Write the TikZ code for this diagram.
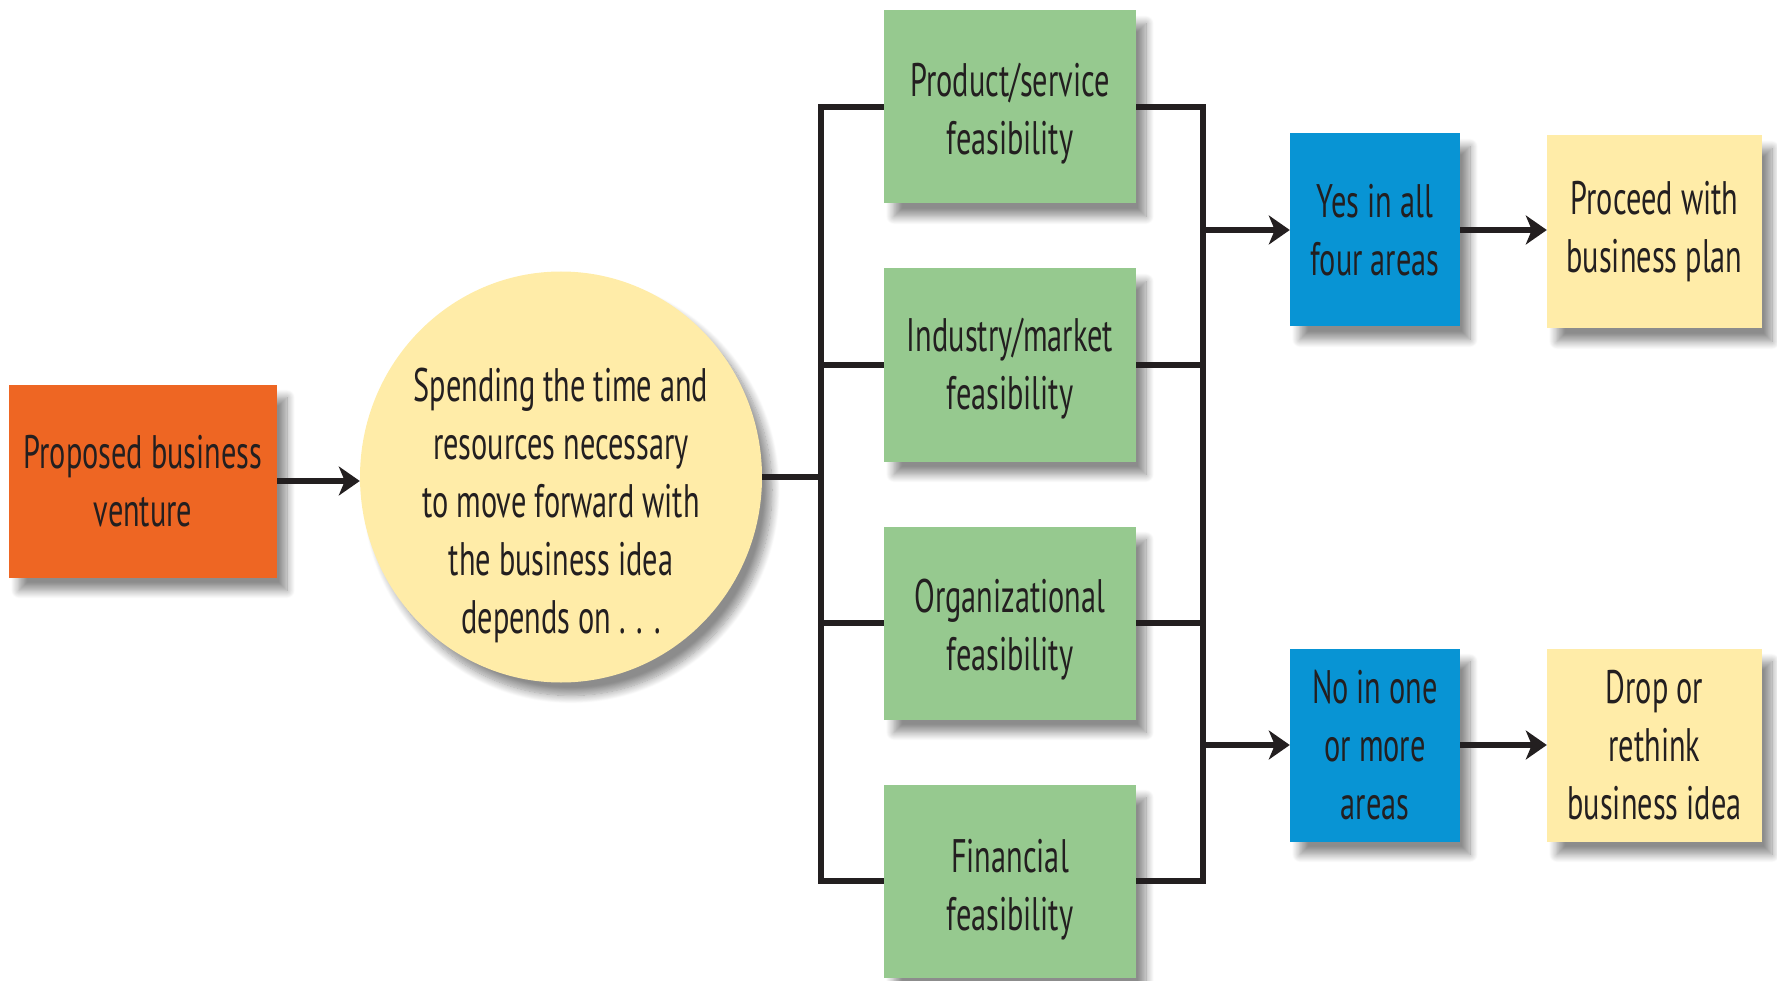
\documentclass[tikz,border=0pt]{standalone}
\usepackage{fontspec}
\setmainfont{PT Sans}[FakeStretch=0.645]
\usetikzlibrary{arrows.meta,shadows.blur,shapes.geometric}

\definecolor{ink}{HTML}{231F20}
\definecolor{orng}{HTML}{EE6623}
\definecolor{grn}{HTML}{96C98F}
\definecolor{blu}{HTML}{0894D4}
\definecolor{cream}{HTML}{FFECA8}

\begin{document}
\begin{tikzpicture}[x=1pt,y=-1pt,
  every node/.style={font=\fontsize{47}{58}\selectfont, text=ink, align=center},
  soft/.style={blur shadow={shadow xshift=10pt, shadow yshift=-13pt,
      shadow blur radius=8pt, shadow blur steps=12, shadow opacity=45}},
  box/.style={rectangle, minimum height=193pt, inner sep=0pt, soft},
  feas/.style={box, fill=grn, minimum width=252pt},
  bubble/.style={ellipse, minimum width=402pt, minimum height=411pt, inner sep=0pt, fill=cream, soft},
  conn/.style={draw=ink, line width=6.5pt, line join=miter},
  arr/.style={conn, -{Stealth[length=21pt,width=29pt,inset=6pt]}}]

\useasboundingbox (0,0) rectangle (1777,981);

% start and the central question
\node[box, fill=orng, minimum width=268pt] (venture) at (143,481)
  {Proposed business\\venture};
\node[bubble] (circ) at (561,477) {};
\node (circtext) at (561,505)
  {Spending the time and\\resources necessary\\to move forward with\\the business idea\\depends on . . .};

% the four feasibility areas (text set a little below the box centre)
\node[feas, label={[yshift=-7pt]center:{Product/service\\feasibility}}] (prod) at (1010,107) {};
\node[feas, label={[yshift=-4pt]center:{Industry/market\\feasibility}}] (ind)  at (1010,365) {};
\node[feas, label={[yshift=-7pt]center:{Organizational\\feasibility}}]  (org)  at (1010,623) {};
\node[feas, label={[yshift=-9pt]center:{Financial\\feasibility}}]       (fin)  at (1010,881) {};

% outcomes
\node[box, fill=blu, minimum width=170pt] (yes) at (1375,230) {Yes in all\\four areas};
\node[box, fill=blu, minimum width=170pt] (no)  at (1375,745) {No in one\\or more\\areas};
\node[box, fill=cream, minimum width=215pt] (proceed) at (1654.5,232) {Proceed with\\business plan};
\node[box, fill=cream, minimum width=215pt] (drop)    at (1654.5,745) {Drop or\\rethink\\business idea};

% junction points of the two bus lines
\coordinate (jl) at (821,477);
\coordinate (jr1) at (1203,230);
\coordinate (jr2) at (1203,745);

% connectors
\draw[arr] (venture.east) -- (venture.east -| circ.west);
\draw[conn] (circ.east) -- (jl);
\draw[conn] (prod.west) -| (jl) |- (fin.west);
\draw[conn] (ind.west) -- (ind.west -| jl);
\draw[conn] (org.west) -- (org.west -| jl);
\draw[conn] (prod.east) -| (jr1) |- (fin.east);
\draw[conn] (ind.east) -- (ind.east -| jr1);
\draw[conn] (org.east) -- (org.east -| jr1);
\draw[arr] (jr1) -- (yes.west);
\draw[arr] (jr2) -- (no.west);
\draw[arr] (yes.east) -- (yes.east -| proceed.west);
\draw[arr] (no.east) -- (drop.west);
\end{tikzpicture}
\end{document}
